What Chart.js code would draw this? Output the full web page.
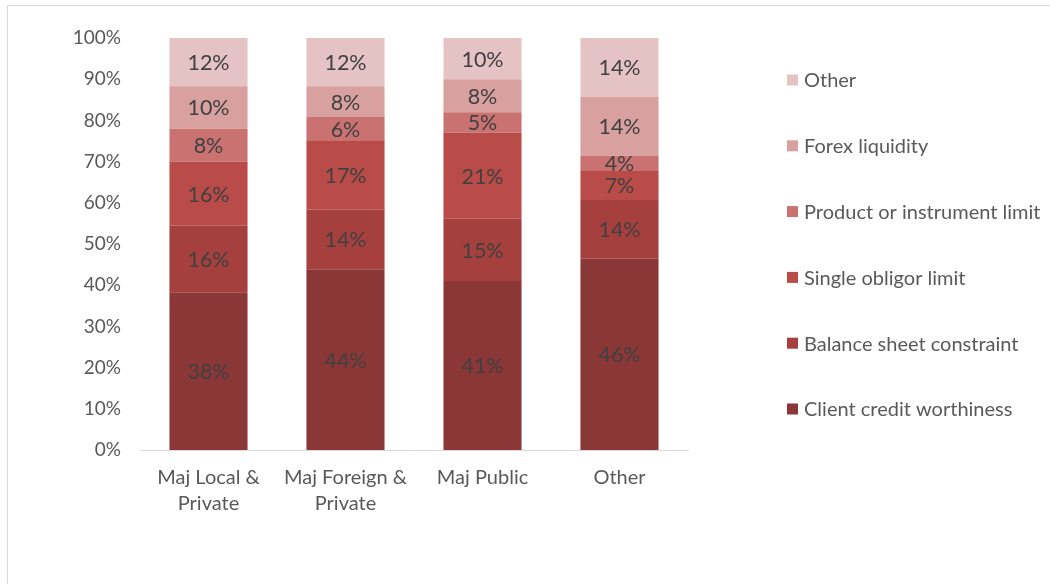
<!DOCTYPE html>
<html><head><meta charset="utf-8">
<script src="https://cdn.jsdelivr.net/npm/chart.js@4.4.0/dist/chart.umd.min.js"></script>
<style>
html,body{margin:0;padding:0;background:#fff;}
#wrap{position:relative;width:1050px;height:584px;}
#frame{position:absolute;left:7px;top:5px;width:1060px;height:600px;border:1px solid #d9d9d9;box-sizing:border-box;}
canvas{position:absolute;left:0;top:0;}
</style></head>
<body>
<div id="wrap"><div id="frame"></div><canvas id="c" width="1050" height="584"></canvas></div>
<script>
const categories = [["Maj Local &","Private"],["Maj Foreign &","Private"],"Maj Public","Other"];
const clientCredit   = [38.3, 43.9, 41.0, 46.4];
const balanceSheet   = [16.1, 14.4, 15.1, 14.3];
const singleObligor  = [15.6, 16.9, 20.9, 7.0];
const productLimit   = [8.0, 5.6, 5.0, 3.7];
const forexLiquidity = [10.3, 7.5, 8.0, 14.3];
const otherReason    = [11.7, 11.7, 10.0, 14.3];
const yTicks = [0,10,20,30,40,50,60,70,80,90,100];

const FONT = "Lato, 'Liberation Sans', sans-serif";
const series = [
  {label:"Client credit worthiness", data:clientCredit, color:"#8C3737"},
  {label:"Balance sheet constraint", data:balanceSheet, color:"#A5403E"},
  {label:"Single obligor limit", data:singleObligor, color:"#B94B48"},
  {label:"Product or instrument limit", data:productLimit, color:"#C97271"},
  {label:"Forex liquidity", data:forexLiquidity, color:"#D9A0A0"},
  {label:"Other", data:otherReason, color:"#E5C3C4"}
];

const labelPlugin = {
  id:"segLabels",
  afterDatasetsDraw(chart){
    const ctx = chart.ctx;
    ctx.save();
    ctx.font = "21.5px " + FONT;
    ctx.fillStyle = "#404040";
    ctx.textAlign = "center";
    ctx.textBaseline = "middle";
    chart.data.datasets.forEach((ds,i)=>{
      const meta = chart.getDatasetMeta(i);
      meta.data.forEach((bar,j)=>{
        const p = bar.getProps(["x","y","base"],true);
        ctx.fillText(Math.round(ds.data[j]) + "%", p.x, (p.y + p.base)/2 + 1);
      });
    });
    ctx.restore();
  }
};

const legendPlugin = {
  id:"customLegend",
  afterDraw(chart){
    const ctx = chart.ctx;
    ctx.save();
    ctx.font = "20px " + FONT;
    ctx.textBaseline = "middle";
    ctx.textAlign = "left";
    const n = chart.data.datasets.length;
    const x0 = 787, yTop = 80, step = 65.8;
    for (let k=0;k<n;k++){
      const ds = chart.data.datasets[n-1-k];
      const y = yTop + k*step;
      ctx.fillStyle = ds.backgroundColor;
      ctx.fillRect(x0, y-5.5, 11, 11);
      ctx.fillStyle = "#595959";
      ctx.fillText(ds.label, x0+17, y+1);
    }
    ctx.restore();
  }
};

new Chart(document.getElementById("c"), {
  type:"bar",
  data:{
    labels: categories,
    datasets: series.map(s=>({label:s.label, data:s.data, backgroundColor:s.color, borderWidth:0,
      categoryPercentage:1.0, barPercentage:0.57}))
  },
  options:{
    responsive:false, animation:false,
    layout:{padding:{top:38,right:362,left:0,bottom:0}},
    plugins:{legend:{display:false}, tooltip:{enabled:false}},
    scales:{
      x:{stacked:true,
        grid:{display:false, drawTicks:false},
        border:{display:true,color:"#d9d9d9",width:1},
        ticks:{color:"#595959",font:{family:FONT,size:20,lineHeight:1.3},padding:15,maxRotation:0,autoSkip:false},
        afterFit(s){s.height=134;}
      },
      y:{stacked:true,min:0,max:100,
        afterBuildTicks(s){s.ticks = yTicks.map(v=>({value:v}));},
        grid:{display:false, drawTicks:false},
        border:{display:false},
        ticks:{color:"#595959",font:{family:FONT,size:19},padding:19,callback:v=>v+"%"},
        afterFit(s){s.width=140;}
      }
    }
  },
  plugins:[labelPlugin, legendPlugin]
});
</script>
</body></html>
